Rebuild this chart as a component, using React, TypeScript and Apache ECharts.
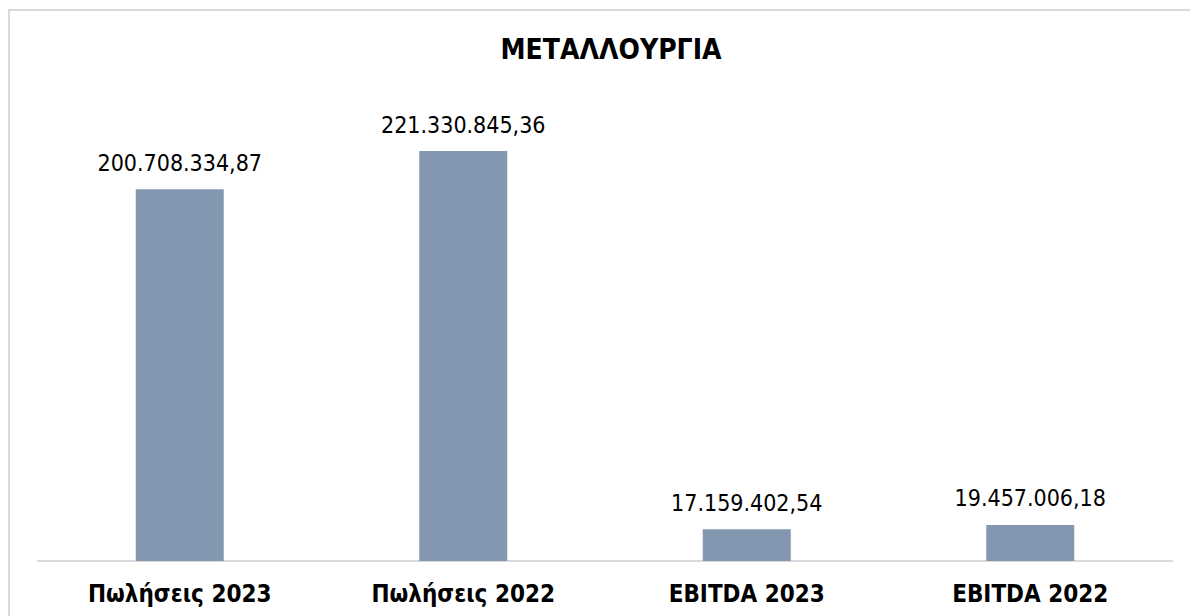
import React, { useEffect, useRef } from "react";
import * as echarts from "echarts";

const title = "ΜΕΤΑΛΛΟΥΡΓΙΑ";
const categories = ["Πωλήσεις 2023", "Πωλήσεις 2022", "EBITDA 2023", "EBITDA 2022"];
const values = [200708334.87, 221330845.36, 17159402.54, 19457006.18];

const FONT = "'DejaVu Sans Condensed', 'DejaVu Sans', sans-serif";

function fmt(v: number): string {
  const [i, d] = v.toFixed(2).split(".");
  return i.replace(/\B(?=(\d{3})+(?!\d))/g, ".") + "," + d;
}

export default function App() {
  const ref = useRef<HTMLDivElement>(null);
  useEffect(() => {
    document.body.style.margin = "0";
    const chart = echarts.init(ref.current!, undefined, { renderer: "svg" });
    chart.setOption({
      animation: false,
      backgroundColor: "#ffffff",
      title: {
        text: title,
        left: 606,
        textAlign: "center",
        top: 30,
        textStyle: { fontFamily: FONT, fontWeight: "bold", fontSize: 28, color: "#000000" },
      },
      graphic: [
        {
          type: "rect",
          shape: { x: 9, y: 10, width: 1200, height: 700 },
          style: { fill: "none", stroke: "#D9D9D9", lineWidth: 2 },
          silent: true,
        },
      ],
      grid: { left: 38, right: 18, top: 98, bottom: 55 },
      xAxis: {
        type: "category",
        data: categories,
        axisLine: { show: true, lineStyle: { color: "#D9D9D9", width: 2 } },
        axisTick: { show: false },
        axisLabel: {
          margin: 21,
          fontFamily: FONT,
          fontWeight: "bold",
          fontSize: 24,
          color: "#000000",
        },
      },
      yAxis: {
        type: "value",
        min: 0,
        max: 250000000,
        show: false,
        splitLine: { show: false },
      },
      series: [
        {
          type: "bar",
          data: values,
          barWidth: 88,
          itemStyle: { color: "#8497B0" },
          label: {
            show: true,
            position: "top",
            distance: 15,
            fontFamily: FONT,
            fontSize: 23,
            color: "#000000",
            formatter: (p: any) => fmt(p.value),
          },
        },
      ],
    });
    return () => chart.dispose();
  }, []);
  return <div ref={ref} style={{ width: 1190, height: 616 }} />;
}
